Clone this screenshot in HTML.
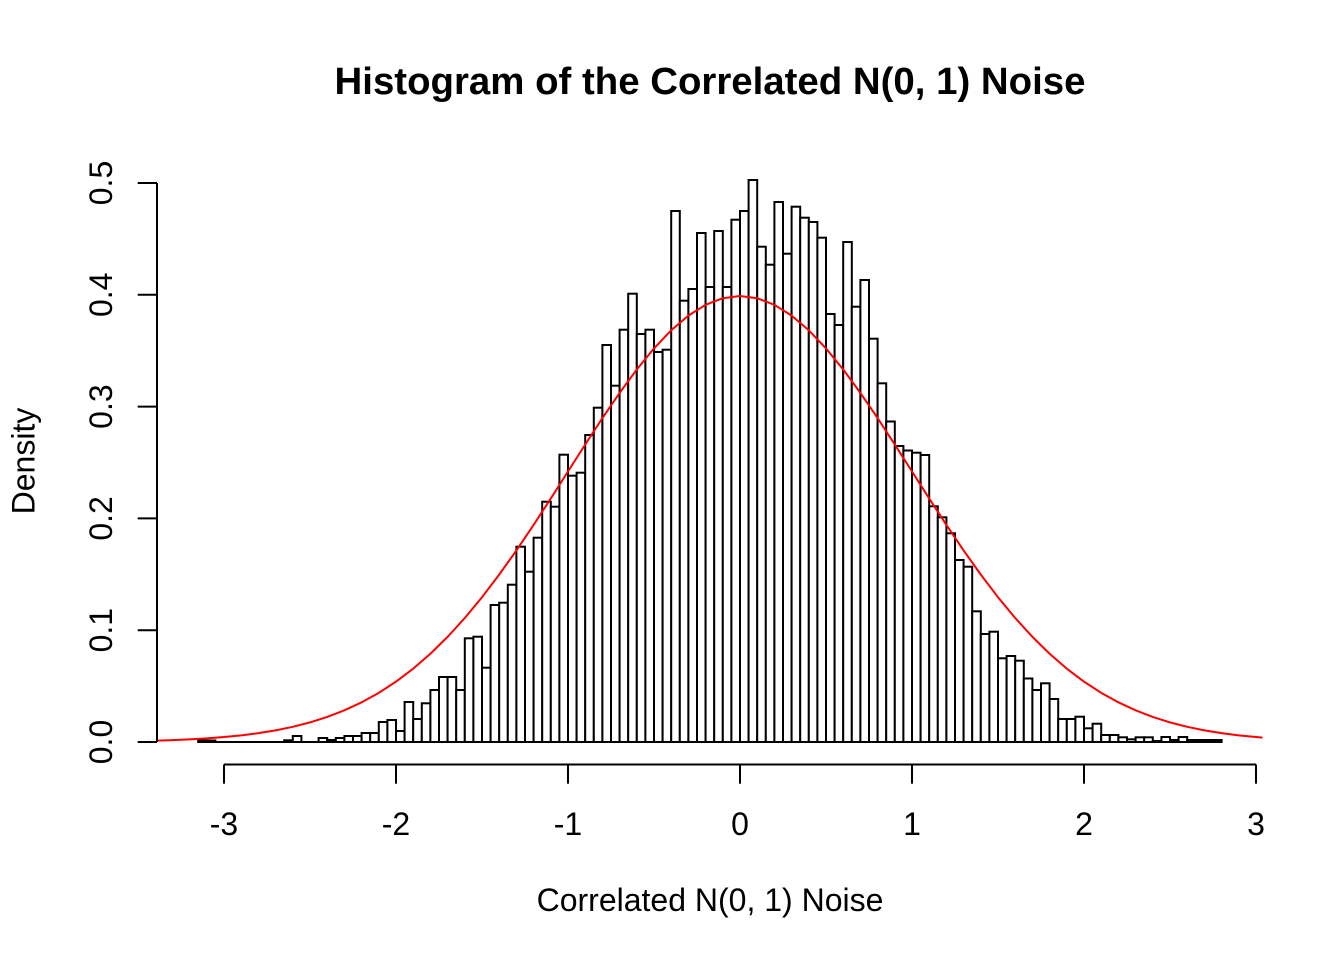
<!DOCTYPE html>
<html>
<head>
<meta charset="utf-8">
<style>
html,body{margin:0;padding:0;background:#fff;}
svg{display:block;}
text{font-family:"Liberation Sans",Arial,Helvetica,sans-serif;fill:#000;}
</style>
</head>
<body>
<svg width="1344" height="960" viewBox="0 0 1344 960" xmlns="http://www.w3.org/2000/svg">
<rect x="0" y="0" width="1344" height="960" fill="#fff"/>
<text x="710" y="94" font-size="38.4" font-weight="bold" text-anchor="middle">Histogram of the Correlated N(0, 1) Noise</text>
<g fill="#fff" stroke="#000" stroke-width="2">
<line x1="198.2" y1="742" x2="1221.6" y2="742"/>
<rect x="198.2" y="740.5" width="8.6" height="1.5"/>
<rect x="206.8" y="740.5" width="8.6" height="1.5"/>
<rect x="284.2" y="740.3" width="8.6" height="1.7"/>
<rect x="292.8" y="736" width="8.6" height="6"/>
<rect x="318.6" y="738" width="8.6" height="4"/>
<rect x="327.2" y="740" width="8.6" height="2"/>
<rect x="335.8" y="738" width="8.6" height="4"/>
<rect x="344.4" y="736" width="8.6" height="6"/>
<rect x="353.0" y="736" width="8.6" height="6"/>
<rect x="361.6" y="733" width="8.6" height="9"/>
<rect x="370.2" y="733" width="8.6" height="9"/>
<rect x="378.8" y="722" width="8.6" height="20"/>
<rect x="387.4" y="720" width="8.6" height="22"/>
<rect x="396.0" y="731" width="8.6" height="11"/>
<rect x="404.6" y="702" width="8.6" height="40"/>
<rect x="413.2" y="719" width="8.6" height="23"/>
<rect x="421.8" y="703.3" width="8.6" height="38.7"/>
<rect x="430.4" y="690" width="8.6" height="52"/>
<rect x="439.0" y="677" width="8.6" height="65"/>
<rect x="447.6" y="677" width="8.6" height="65"/>
<rect x="456.2" y="690" width="8.6" height="52"/>
<rect x="464.8" y="638.3" width="8.6" height="103.7"/>
<rect x="473.4" y="636.7" width="8.6" height="105.3"/>
<rect x="482.0" y="667.7" width="8.6" height="74.3"/>
<rect x="490.6" y="605" width="8.6" height="137"/>
<rect x="499.2" y="602.7" width="8.6" height="139.3"/>
<rect x="507.8" y="584.7" width="8.6" height="157.3"/>
<rect x="516.4" y="546.7" width="8.6" height="195.3"/>
<rect x="525.0" y="571.7" width="8.6" height="170.3"/>
<rect x="533.6" y="537.7" width="8.6" height="204.3"/>
<rect x="542.2" y="501.7" width="8.6" height="240.3"/>
<rect x="550.8" y="506.7" width="8.6" height="235.3"/>
<rect x="559.4" y="454.7" width="8.6" height="287.3"/>
<rect x="568.0" y="475.7" width="8.6" height="266.3"/>
<rect x="576.6" y="472.7" width="8.6" height="269.3"/>
<rect x="585.2" y="435" width="8.6" height="307"/>
<rect x="593.8" y="407.7" width="8.6" height="334.3"/>
<rect x="602.4" y="345" width="8.6" height="397"/>
<rect x="611.0" y="385.7" width="8.6" height="356.3"/>
<rect x="619.6" y="329.7" width="8.6" height="412.3"/>
<rect x="628.2" y="293.7" width="8.6" height="448.3"/>
<rect x="636.8" y="334" width="8.6" height="408"/>
<rect x="645.4" y="329.7" width="8.6" height="412.3"/>
<rect x="654.0" y="352" width="8.6" height="390"/>
<rect x="662.6" y="349.7" width="8.6" height="392.3"/>
<rect x="671.2" y="211" width="8.6" height="531"/>
<rect x="679.8" y="300.7" width="8.6" height="441.3"/>
<rect x="688.4" y="289" width="8.6" height="453"/>
<rect x="697.0" y="233" width="8.6" height="509"/>
<rect x="705.6" y="287" width="8.6" height="455"/>
<rect x="714.2" y="231" width="8.6" height="511"/>
<rect x="722.8" y="287" width="8.6" height="455"/>
<rect x="731.4" y="219.7" width="8.6" height="522.3"/>
<rect x="740.0" y="211" width="8.6" height="531"/>
<rect x="748.6" y="180" width="8.6" height="562"/>
<rect x="757.2" y="246.7" width="8.6" height="495.3"/>
<rect x="765.8" y="264.7" width="8.6" height="477.3"/>
<rect x="774.4" y="202" width="8.6" height="540"/>
<rect x="783.0" y="253.7" width="8.6" height="488.3"/>
<rect x="791.6" y="206.7" width="8.6" height="535.3"/>
<rect x="800.2" y="217.7" width="8.6" height="524.3"/>
<rect x="808.8" y="222" width="8.6" height="520"/>
<rect x="817.4" y="237.7" width="8.6" height="504.3"/>
<rect x="826.0" y="314" width="8.6" height="428"/>
<rect x="834.6" y="325" width="8.6" height="417"/>
<rect x="843.2" y="242" width="8.6" height="500"/>
<rect x="851.8" y="306.7" width="8.6" height="435.3"/>
<rect x="860.4" y="280" width="8.6" height="462"/>
<rect x="869.0" y="338.7" width="8.6" height="403.3"/>
<rect x="877.6" y="383.3" width="8.6" height="358.7"/>
<rect x="886.2" y="421.5" width="8.6" height="320.5"/>
<rect x="894.8" y="446" width="8.6" height="296"/>
<rect x="903.4" y="450.5" width="8.6" height="291.5"/>
<rect x="912.0" y="452.7" width="8.6" height="289.3"/>
<rect x="920.6" y="455" width="8.6" height="287"/>
<rect x="929.2" y="506.3" width="8.6" height="235.7"/>
<rect x="937.8" y="517.3" width="8.6" height="224.7"/>
<rect x="946.4" y="533.3" width="8.6" height="208.7"/>
<rect x="955.0" y="560" width="8.6" height="182"/>
<rect x="963.6" y="566.7" width="8.6" height="175.3"/>
<rect x="972.2" y="611.3" width="8.6" height="130.7"/>
<rect x="980.8" y="634" width="8.6" height="108"/>
<rect x="989.4" y="631.7" width="8.6" height="110.3"/>
<rect x="998.0" y="658.3" width="8.6" height="83.7"/>
<rect x="1006.6" y="656" width="8.6" height="86"/>
<rect x="1015.2" y="660.7" width="8.6" height="81.3"/>
<rect x="1023.8" y="678.5" width="8.6" height="63.5"/>
<rect x="1032.4" y="690" width="8.6" height="52"/>
<rect x="1041.0" y="683.3" width="8.6" height="58.7"/>
<rect x="1049.6" y="699" width="8.6" height="43"/>
<rect x="1058.2" y="719" width="8.6" height="23"/>
<rect x="1066.8" y="719" width="8.6" height="23"/>
<rect x="1075.4" y="716.7" width="8.6" height="25.3"/>
<rect x="1084.0" y="728.3" width="8.6" height="13.7"/>
<rect x="1092.6" y="723.7" width="8.6" height="18.3"/>
<rect x="1101.2" y="735" width="8.6" height="7"/>
<rect x="1109.8" y="735" width="8.6" height="7"/>
<rect x="1118.4" y="737.3" width="8.6" height="4.7"/>
<rect x="1127.0" y="739.3" width="8.6" height="2.7"/>
<rect x="1135.6" y="737.3" width="8.6" height="4.7"/>
<rect x="1144.2" y="737.3" width="8.6" height="4.7"/>
<rect x="1152.8" y="741" width="8.6" height="1"/>
<rect x="1161.4" y="737" width="8.6" height="5"/>
<rect x="1170.0" y="740" width="8.6" height="2"/>
<rect x="1178.6" y="737" width="8.6" height="5"/>
<rect x="1187.2" y="740" width="8.6" height="2"/>
<rect x="1195.8" y="740" width="8.6" height="2"/>
<rect x="1204.4" y="740" width="8.6" height="2"/>
<rect x="1213.0" y="740" width="8.6" height="2"/>
</g>
<polyline fill="none" stroke="#ff0000" stroke-width="2" stroke-linejoin="round" points="157.3,740.57 172.4,740.07 189.6,739.33 206.8,738.35 224,737.05 241.2,735.34 258.4,733.15 275.6,730.35 292.8,726.81 310,722.40 327.2,716.96 344.4,710.33 361.6,702.34 378.8,692.83 396,681.64 413.2,668.64 430.4,653.73 447.6,636.85 464.8,617.99 482,597.20 499.2,574.61 516.4,550.41 533.6,524.90 550.8,498.44 568,471.48 585.2,444.52 602.4,418.12 619.6,392.90 636.8,369.45 654,348.39 671.2,330.27 688.4,315.61 705.6,304.81 722.8,298.21 740,295.98 757.2,298.21 774.4,304.81 791.6,315.61 808.8,330.27 826,348.39 843.2,369.45 860.4,392.90 877.6,418.12 894.8,444.52 912,471.48 929.2,498.44 946.4,524.90 963.6,550.41 980.8,574.61 998,597.20 1015.2,617.99 1032.4,636.85 1049.6,653.73 1066.8,668.64 1084,681.64 1101.2,692.83 1118.4,702.34 1135.6,710.33 1152.8,716.96 1170,722.40 1187.2,726.81 1204.4,730.35 1221.6,733.15 1238.8,735.34 1256,737.05 1262.5,737.58"/>
<g stroke="#000" stroke-width="2" fill="none">
<line x1="157" y1="183" x2="157" y2="742"/>
<line x1="137.7" y1="742" x2="157" y2="742"/>
<line x1="137.7" y1="630.2" x2="157" y2="630.2"/>
<line x1="137.7" y1="518.4" x2="157" y2="518.4"/>
<line x1="137.7" y1="406.6" x2="157" y2="406.6"/>
<line x1="137.7" y1="294.8" x2="157" y2="294.8"/>
<line x1="137.7" y1="183" x2="157" y2="183"/>
<line x1="224" y1="764.5" x2="1256" y2="764.5"/>
<line x1="224" y1="764.5" x2="224" y2="783.7"/>
<line x1="396" y1="764.5" x2="396" y2="783.7"/>
<line x1="568" y1="764.5" x2="568" y2="783.7"/>
<line x1="740" y1="764.5" x2="740" y2="783.7"/>
<line x1="912" y1="764.5" x2="912" y2="783.7"/>
<line x1="1084" y1="764.5" x2="1084" y2="783.7"/>
<line x1="1256" y1="764.5" x2="1256" y2="783.7"/>
</g>
<g font-size="32" text-anchor="middle">
<text transform="translate(112,742) rotate(-90)">0.0</text>
<text transform="translate(112,630.2) rotate(-90)">0.1</text>
<text transform="translate(112,518.4) rotate(-90)">0.2</text>
<text transform="translate(112,406.6) rotate(-90)">0.3</text>
<text transform="translate(112,294.8) rotate(-90)">0.4</text>
<text transform="translate(112,183) rotate(-90)">0.5</text>
<text x="224" y="835">-3</text>
<text x="396" y="835">-2</text>
<text x="568" y="835">-1</text>
<text x="740" y="835">0</text>
<text x="912" y="835">1</text>
<text x="1084" y="835">2</text>
<text x="1256" y="835">3</text>
<text x="710" y="911">Correlated N(0, 1) Noise</text>
<text transform="translate(34.5,461) rotate(-90)">Density</text>
</g>
</svg>
</body>
</html>
